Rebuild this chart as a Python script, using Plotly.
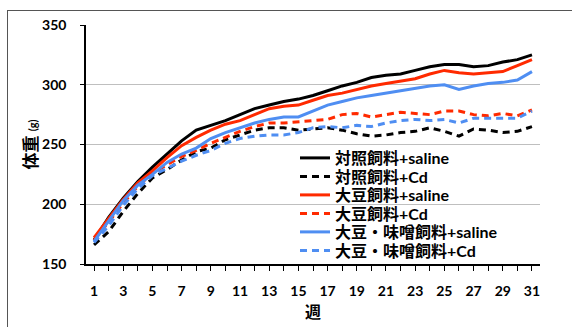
import plotly.graph_objects as go

weeks = list(range(1, 32))

ctrl_saline = [170, 189, 205, 219, 231, 242, 253, 262, 266, 270, 275, 280, 283, 286, 288, 291,
               295, 299, 302, 306, 308, 309, 312, 315, 317, 317, 315, 316, 319, 321, 325]
ctrl_cd = [166, 177, 194, 209, 222, 229, 237, 244, 247, 254, 258, 262, 264, 264, 262, 263,
           264, 262, 259, 257, 258, 260, 261, 264, 261, 257, 263, 262, 260, 261, 265]
soy_saline = [172, 188, 204, 218, 228, 239, 249, 256, 262, 267, 270, 275, 280, 282, 283, 287,
              291, 293, 296, 299, 301, 303, 305, 309, 312, 310, 309, 310, 311, 316, 321]
soy_cd = [170, 185, 201, 215, 226, 233, 240, 245, 251, 256, 261, 265, 268, 268, 269, 270,
          271, 275, 276, 273, 275, 277, 276, 275, 278, 278, 275, 274, 276, 274, 279]
miso_saline = [169, 186, 203, 216, 225, 235, 242, 247, 255, 260, 264, 268, 271, 273, 273, 278,
               283, 286, 289, 291, 293, 295, 297, 299, 300, 296, 299, 301, 302, 304, 311]
miso_cd = [168, 182, 199, 213, 224, 230, 236, 241, 245, 251, 255, 257, 258, 258, 260, 264,
           265, 264, 266, 265, 268, 270, 271, 270, 271, 268, 272, 272, 272, 272, 278]

series_names = ["対照飼料+saline", "対照飼料+Cd", "大豆飼料+saline", "大豆飼料+Cd",
                "大豆・味噌飼料+saline", "大豆・味噌飼料+Cd"]
series_values = [ctrl_saline, ctrl_cd, soy_saline, soy_cd, miso_saline, miso_cd]
series_colors = ["#000000", "#000000", "#FF2A00", "#FF2A00", "#4F8EF2", "#4F8EF2"]
series_dash = ["solid", "7px,5px", "solid", "7px,5px", "solid", "7px,5px"]

y_ticks = [150, 200, 250, 300, 350]
x_labels = [1, 3, 5, 7, 9, 11, 13, 15, 17, 19, 21, 23, 25, 27, 29, 31]

FONT = "Lato, 'Noto Sans CJK JP', sans-serif"

W, H = 572, 327
PLOT_LEFT, PLOT_RIGHT = 86, 540
PLOT_TOP, PLOT_BOTTOM = 25, 264
legend_rows_px = [158, 176.5, 195, 213.5, 232, 250.5]


def px_to_paper_x(px):
    return (px - PLOT_LEFT) / (PLOT_RIGHT - PLOT_LEFT)


def px_to_paper_y(py):
    return (PLOT_BOTTOM - py) / (PLOT_BOTTOM - PLOT_TOP)


fig = go.Figure()
layout_legends = {}
for i, (name, vals, col, dash) in enumerate(zip(series_names, series_values,
                                                 series_colors, series_dash)):
    key = "legend" if i == 0 else f"legend{i + 1}"
    fig.add_trace(go.Scatter(x=weeks, y=vals, mode="lines", name=name, legend=key,
                             line=dict(color=col, width=3, dash=dash)))
    layout_legends[key] = dict(x=px_to_paper_x(295), y=px_to_paper_y(legend_rows_px[i]),
                               xanchor="left", yanchor="middle",
                               bgcolor="rgba(0,0,0,0)", borderwidth=0,
                               font=dict(size=16, weight="bold", family=FONT),
                               itemwidth=30)

fig.update_layout(
    width=W, height=H,
    margin=dict(l=PLOT_LEFT, r=W - PLOT_RIGHT, t=PLOT_TOP, b=H - PLOT_BOTTOM, autoexpand=False),
    paper_bgcolor="white", plot_bgcolor="white",
    font=dict(family=FONT, color="black", size=14, weight="bold"),
    showlegend=True,
    xaxis=dict(range=[0.45, 31.55], tickvals=x_labels, ticktext=[str(v) for v in x_labels],
               ticks="outside", ticklen=5, tickcolor="black", tickwidth=1,
               minor=dict(dtick=1, tick0=0, ticks="outside", ticklen=5, tickcolor="black"),
               showline=True, linecolor="black", linewidth=1.5, showgrid=False,
               zeroline=False, ticklabelstandoff=8, automargin=False,
               title=dict(text="週", font=dict(size=16, weight="bold"), standoff=9)),
    yaxis=dict(range=[150, 350], tickvals=y_ticks, ticks="outside", ticklen=4,
               tickcolor="black", showline=True, linecolor="black", linewidth=1.5,
               showgrid=True, gridcolor="#BFBFBF", gridwidth=1, zeroline=False,
               ticklabelstandoff=11, automargin=False),
    annotations=[dict(text="体重 <span style='font-size:11px'>(g)</span>",
                      xref="paper", yref="paper", x=px_to_paper_x(30), y=0.5,
                      xanchor="center", yanchor="middle", textangle=-90, showarrow=False,
                      font=dict(size=17, weight="bold", family=FONT))],
    **layout_legends,
)

frame_js = """
document.body.style.margin='0px';
document.body.style.overflow='hidden';
var fr=document.createElement('div');
fr.style.cssText='position:absolute;left:7px;top:10px;width:570px;height:320px;'+
 'border-left:1.5px solid #555;border-top:1.5px solid #555;pointer-events:none;box-sizing:border-box;';
document.body.appendChild(fr);
"""

fig.write_html("out.html", post_script=frame_js, config={"displayModeBar": False})
